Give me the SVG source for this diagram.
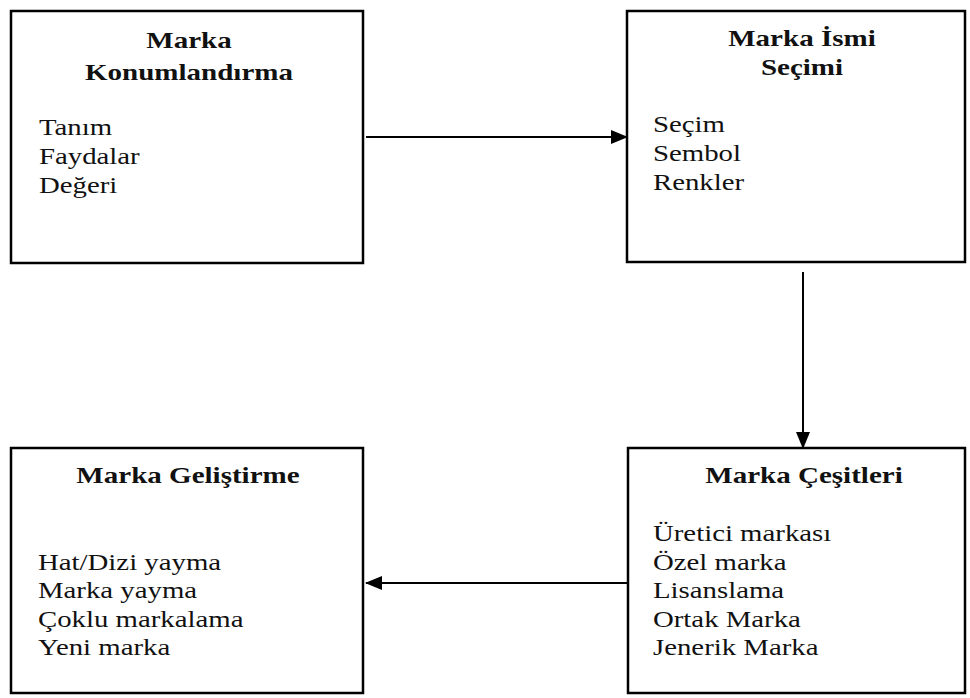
<svg xmlns="http://www.w3.org/2000/svg" width="970" height="698" viewBox="0 0 970 698">
<defs>
<marker id="ah" markerWidth="17" markerHeight="14" refX="16" refY="7" orient="auto" markerUnits="userSpaceOnUse">
<path d="M0,0 L17,7 L0,14 Z" fill="#000"/>
</marker>
</defs>
<style>
.box{fill:#fff;stroke:#000;stroke-width:2.5}
.t{font-family:"Liberation Serif","Times New Roman",serif;font-size:24px;font-weight:bold;fill:#111;text-anchor:middle}
.b{font-family:"Liberation Serif","Times New Roman",serif;font-size:24px;fill:#111}
.c{stroke:#000;stroke-width:2;fill:none}
</style>
<rect width="970" height="698" fill="#fff"/>
<g id="n1">
<rect class="box" x="11" y="11" width="352" height="252"/>
<g transform="matrix(1.21 0 0 1 -39.69 0)">
<text class="t" x="189" y="48">Marka</text>
<text class="t" x="189" y="80">Konumlandırma</text>
</g>
<g transform="matrix(1.2 0 0 1 -7.8 0)">
<text class="b" x="39" y="135">Tanım</text>
<text class="b" x="39" y="164">Faydalar</text>
<text class="b" x="39" y="193">Değeri</text>
</g>
</g>
<g id="n2">
<rect class="box" x="627" y="11" width="338" height="251"/>
<g transform="matrix(1.21 0 0 1 -168.42 0)">
<text class="t" x="802" y="46">Marka İsmi</text>
<text class="t" x="802" y="75">Seçimi</text>
</g>
<g transform="matrix(1.2 0 0 1 -130.6 0)">
<text class="b" x="653" y="132">Seçim</text>
<text class="b" x="653" y="161">Sembol</text>
<text class="b" x="653" y="190">Renkler</text>
</g>
</g>
<g id="n3">
<rect class="box" x="11" y="448" width="352" height="245"/>
<g transform="matrix(1.21 0 0 1 -39.48 0)">
<text class="t" x="188" y="483">Marka Geliştirme</text>
</g>
<g transform="matrix(1.2 0 0 1 -7.6 0)">
<text class="b" x="38" y="570">Hat/Dizi yayma</text>
<text class="b" x="38" y="598">Marka yayma</text>
<text class="b" x="38" y="627">Çoklu markalama</text>
<text class="b" x="38" y="655">Yeni marka</text>
</g>
</g>
<g id="n4">
<rect class="box" x="628" y="448" width="337" height="245"/>
<g transform="matrix(1.21 0 0 1 -168.84 0)">
<text class="t" x="804" y="483">Marka Çeşitleri</text>
</g>
<g transform="matrix(1.2 0 0 1 -130.6 0)">
<text class="b" x="653" y="541">Üretici markası</text>
<text class="b" x="653" y="570">Özel marka</text>
<text class="b" x="653" y="598">Lisanslama</text>
<text class="b" x="653" y="627">Ortak Marka</text>
<text class="b" x="653" y="655">Jenerik Marka</text>
</g>
</g>
<g id="connectors">
<line class="c" x1="366" y1="137" x2="627" y2="137" marker-end="url(#ah)"/>
<line class="c" x1="803" y1="272" x2="803" y2="448" marker-end="url(#ah)"/>
<line class="c" x1="628" y1="583" x2="366" y2="583" marker-end="url(#ah)"/>
</g>
</svg>
